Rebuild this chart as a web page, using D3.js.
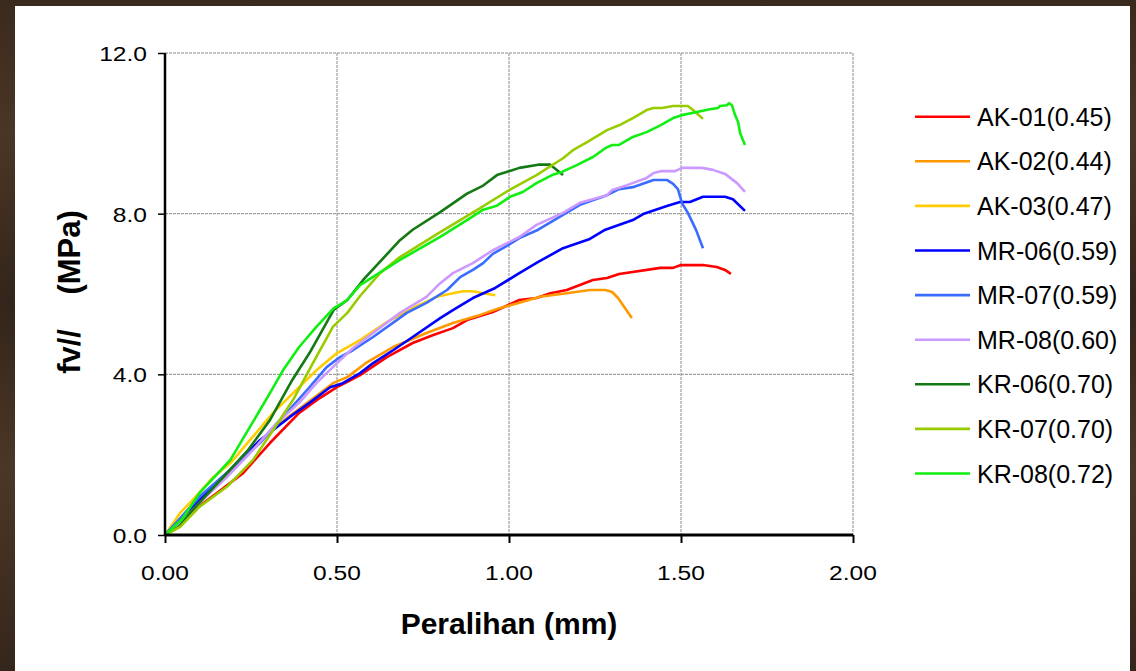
<!DOCTYPE html>
<html><head><meta charset="utf-8">
<script src="https://cdn.jsdelivr.net/npm/d3@7"></script>
<style>
html,body{margin:0;padding:0;background:#3b2a1f;}
svg{display:block;}
text{font-family:Arial,"Liberation Sans",sans-serif;}
</style></head>
<body>
<script>
const xTicks = [0, 0.5, 1.0, 1.5, 2.0];
const yTicks = [0, 4, 8, 12];
const seriesNames = ["AK-01(0.45)","AK-02(0.44)","AK-03(0.47)","MR-06(0.59)","MR-07(0.59)","MR-08(0.60)","KR-06(0.70)","KR-07(0.70)","KR-08(0.72)"];
const seriesColors = ["#ff0000","#ff9900","#ffcc00","#0000ff","#3a6cff","#cc99ff","#137a13","#99cc00","#11ee11"];

const AK01 = [[0,0],[0.03,0.15],[0.073,0.55],[0.15,1.04],[0.227,1.54],[0.305,2.29],[0.39,3.04],[0.45,3.41],[0.50,3.68],[0.53,3.81],[0.567,3.98],[0.645,4.43],[0.72,4.78],[0.78,4.98],[0.837,5.15],[0.878,5.35],[0.953,5.55],[1.03,5.85],[1.08,5.9],[1.12,6.02],[1.168,6.1],[1.244,6.35],[1.285,6.4],[1.32,6.5],[1.44,6.65],[1.477,6.65],[1.50,6.72],[1.564,6.72],[1.604,6.67],[1.628,6.6],[1.645,6.5]];
const AK02 = [[0,0],[0.05,0.4],[0.1,0.85],[0.18,1.5],[0.27,2.3],[0.36,2.95],[0.43,3.4],[0.488,3.78],[0.53,3.93],[0.587,4.3],[0.663,4.68],[0.76,5.03],[0.837,5.28],[0.916,5.48],[0.974,5.65],[1.03,5.78],[1.09,5.93],[1.168,6.02],[1.235,6.1],[1.28,6.1],[1.30,6.05],[1.317,5.9],[1.357,5.4]];
const AK03 = [[0,0],[0.044,0.55],[0.08,0.87],[0.14,1.44],[0.19,1.79],[0.247,2.36],[0.314,3.04],[0.39,3.68],[0.44,4.1],[0.50,4.53],[0.567,4.85],[0.645,5.3],[0.72,5.65],[0.79,5.93],[0.837,6.02],[0.866,6.07],[0.895,6.07],[0.925,6.02],[0.96,5.97]];
const MR06 = [[0,0],[0.08,0.7],[0.18,1.54],[0.276,2.36],[0.363,2.94],[0.42,3.29],[0.48,3.68],[0.517,3.78],[0.567,4.03],[0.605,4.28],[0.663,4.6],[0.72,4.93],[0.80,5.4],[0.837,5.6],[0.895,5.9],[0.96,6.15],[1.03,6.52],[1.085,6.8],[1.157,7.14],[1.235,7.37],[1.28,7.6],[1.36,7.84],[1.39,7.99],[1.459,8.19],[1.497,8.29],[1.526,8.29],[1.564,8.42],[1.628,8.42],[1.651,8.36],[1.686,8.07]];
const MR07 = [[0,0],[0.10,0.95],[0.198,1.69],[0.276,2.29],[0.343,2.94],[0.413,3.61],[0.47,4.18],[0.509,4.43],[0.546,4.6],[0.605,4.93],[0.703,5.53],[0.76,5.78],[0.82,6.1],[0.858,6.42],[0.895,6.6],[0.925,6.77],[0.953,7.0],[0.994,7.2],[1.03,7.39],[1.08,7.58],[1.157,7.97],[1.206,8.22],[1.285,8.46],[1.32,8.61],[1.36,8.66],[1.42,8.84],[1.459,8.84],[1.477,8.74],[1.491,8.61],[1.503,8.26],[1.52,8.02],[1.544,7.59],[1.564,7.14]];
const MR08 = [[0,0],[0.05,0.35],[0.10,0.8],[0.18,1.44],[0.256,2.12],[0.325,2.79],[0.39,3.29],[0.44,3.78],[0.50,4.28],[0.546,4.65],[0.605,5.03],[0.683,5.53],[0.76,5.93],[0.80,6.27],[0.837,6.52],[0.895,6.77],[0.953,7.09],[1.03,7.42],[1.08,7.72],[1.157,8.02],[1.206,8.27],[1.285,8.46],[1.30,8.59],[1.343,8.71],[1.40,8.89],[1.42,9.01],[1.444,9.06],[1.483,9.06],[1.503,9.14],[1.561,9.14],[1.593,9.09],[1.628,8.99],[1.663,8.76],[1.686,8.54]];
const KR06 = [[0,0],[0.04,0.2],[0.08,0.62],[0.18,1.54],[0.24,2.1],[0.305,2.86],[0.37,3.86],[0.42,4.53],[0.49,5.6],[0.53,5.85],[0.576,6.35],[0.683,7.34],[0.72,7.6],[0.80,8.04],[0.878,8.5],[0.925,8.7],[0.965,8.96],[1.03,9.14],[1.085,9.22],[1.12,9.22],[1.157,8.96]];
const KR07 = [[0,0],[0.044,0.2],[0.10,0.7],[0.18,1.2],[0.256,1.87],[0.314,2.61],[0.372,3.36],[0.43,4.28],[0.488,5.18],[0.53,5.53],[0.567,5.95],[0.625,6.52],[0.683,6.92],[0.80,7.54],[0.858,7.84],[0.916,8.14],[1.003,8.6],[1.08,8.96],[1.157,9.38],[1.186,9.58],[1.227,9.78],[1.285,10.08],[1.32,10.2],[1.36,10.38],[1.40,10.58],[1.42,10.63],[1.444,10.63],[1.477,10.68],[1.52,10.68],[1.535,10.58],[1.564,10.36]];
const KR08 = [[0,0],[0.05,0.4],[0.10,1.04],[0.19,1.87],[0.247,2.69],[0.305,3.53],[0.343,4.1],[0.39,4.68],[0.44,5.18],[0.49,5.64],[0.53,5.85],[0.567,6.22],[0.683,6.85],[0.80,7.42],[0.878,7.84],[0.925,8.1],[0.965,8.2],[1.003,8.42],[1.04,8.54],[1.08,8.76],[1.125,8.96],[1.154,9.04],[1.197,9.21],[1.244,9.41],[1.28,9.63],[1.30,9.71],[1.32,9.71],[1.36,9.91],[1.40,10.03],[1.44,10.2],[1.477,10.38],[1.506,10.46],[1.546,10.53],[1.584,10.6],[1.608,10.63],[1.613,10.68],[1.633,10.7],[1.64,10.75],[1.648,10.7],[1.657,10.46],[1.666,10.28],[1.672,10.0],[1.686,9.71]];
const seriesData = [AK01, AK02, AK03, MR06, MR07, MR08, KR06, KR07, KR08];

const W = 1136, H = 671;
const svg = d3.select("body").append("svg").attr("width", W).attr("height", H);

// wood-like frame
const defs = svg.append("defs");
const g = defs.append("linearGradient").attr("id","wood").attr("x1","0").attr("y1","0").attr("x2","0").attr("y2","1");
[["0%","#3a2a1e"],["20%","#4a3626"],["45%","#33251b"],["70%","#4b3727"],["100%","#35261c"]].forEach(s=>g.append("stop").attr("offset",s[0]).attr("stop-color",s[1]));
svg.append("rect").attr("width",W).attr("height",H).attr("fill","url(#wood)");
svg.append("rect").attr("x",15).attr("y",6).attr("width",1115).attr("height",H-6).attr("fill","#ffffff");

const x = d3.scaleLinear().domain([0,2]).range([165,853]);
const y = d3.scaleLinear().domain([0,12]).range([535,53]);

// grid
const grid = svg.append("g");
grid.selectAll(".vg").data(xTicks.filter(d=>d>0)).enter().append("line")
  .attr("x1",d=>x(d)).attr("x2",d=>x(d)).attr("y1",y(12)).attr("y2",y(0))
  .attr("stroke","#8a8a8a").attr("stroke-width",1).attr("stroke-dasharray","3,1");
grid.selectAll(".hg").data(yTicks.filter(d=>d>0)).enter().append("line")
  .attr("x1",x(0)).attr("x2",x(2)).attr("y1",d=>y(d)).attr("y2",d=>y(d))
  .attr("stroke","#8a8a8a").attr("stroke-width",1).attr("stroke-dasharray","3,1");

// series
const line = d3.line().x(d=>x(d[0])).y(d=>y(d[1]));
svg.append("g").selectAll("path").data(seriesData).enter().append("path")
  .attr("d", line).attr("fill","none")
  .attr("stroke",(d,i)=>seriesColors[i]).attr("stroke-width",2.6)
  .attr("stroke-linejoin","round").attr("stroke-linecap","butt");

// axes
const xAxis = d3.axisBottom(x).tickValues(xTicks).tickSize(8).tickFormat("");
const gx = svg.append("g").attr("transform",`translate(0,${y(0)})`).call(xAxis);
gx.select(".domain").attr("stroke","#000").attr("stroke-width",3).attr("d",`M${x(0)},0H${x(2)}`);
gx.selectAll(".tick line").attr("stroke","#000").attr("stroke-width",2);
const yAxis = d3.axisLeft(y).tickValues(yTicks).tickSize(7).tickFormat("");
const gy = svg.append("g").attr("transform",`translate(${x(0)},0)`).call(yAxis);
gy.select(".domain").attr("stroke","#000").attr("stroke-width",2.5).attr("d",`M0,${y(12)}V${y(0)}`);
gy.selectAll(".tick line").attr("stroke","#000").attr("stroke-width",1.5);

// tick labels
svg.append("g").selectAll("text").data(xTicks).enter().append("text")
  .attr("transform",d=>`translate(${x(d)},580) scale(1.17,1)`)
  .attr("text-anchor","middle").attr("font-size",21).attr("fill","#000")
  .text(d=>d3.format(".2f")(d));
svg.append("g").selectAll("text").data(yTicks).enter().append("text")
  .attr("transform",d=>`translate(147,${y(d)+8}) scale(1.17,1)`)
  .attr("text-anchor","end").attr("font-size",21).attr("fill","#000")
  .text(d=>d3.format(".1f")(d));

// titles
svg.append("text").attr("x",509).attr("y",634).attr("text-anchor","middle")
  .attr("font-size",30).attr("font-weight","bold").text("Peralihan (mm)");
svg.append("text").attr("transform","translate(80,292) rotate(-90)").attr("text-anchor","middle")
  .attr("font-size",31).attr("font-weight","bold").style("white-space","pre").text("fv//    (MPa)");

// legend
const lg = svg.append("g").selectAll("g").data(seriesNames).enter().append("g")
  .attr("transform",(d,i)=>`translate(0,${116.7+i*44.6})`);
lg.append("line").attr("x1",915).attr("x2",970).attr("y1",0).attr("y2",0)
  .attr("stroke",(d,i)=>seriesColors[i]).attr("stroke-width",2.6);
lg.append("text").attr("x",977).attr("y",9).attr("font-size",25).attr("fill","#000").text(d=>d);
</script>
</body></html>
